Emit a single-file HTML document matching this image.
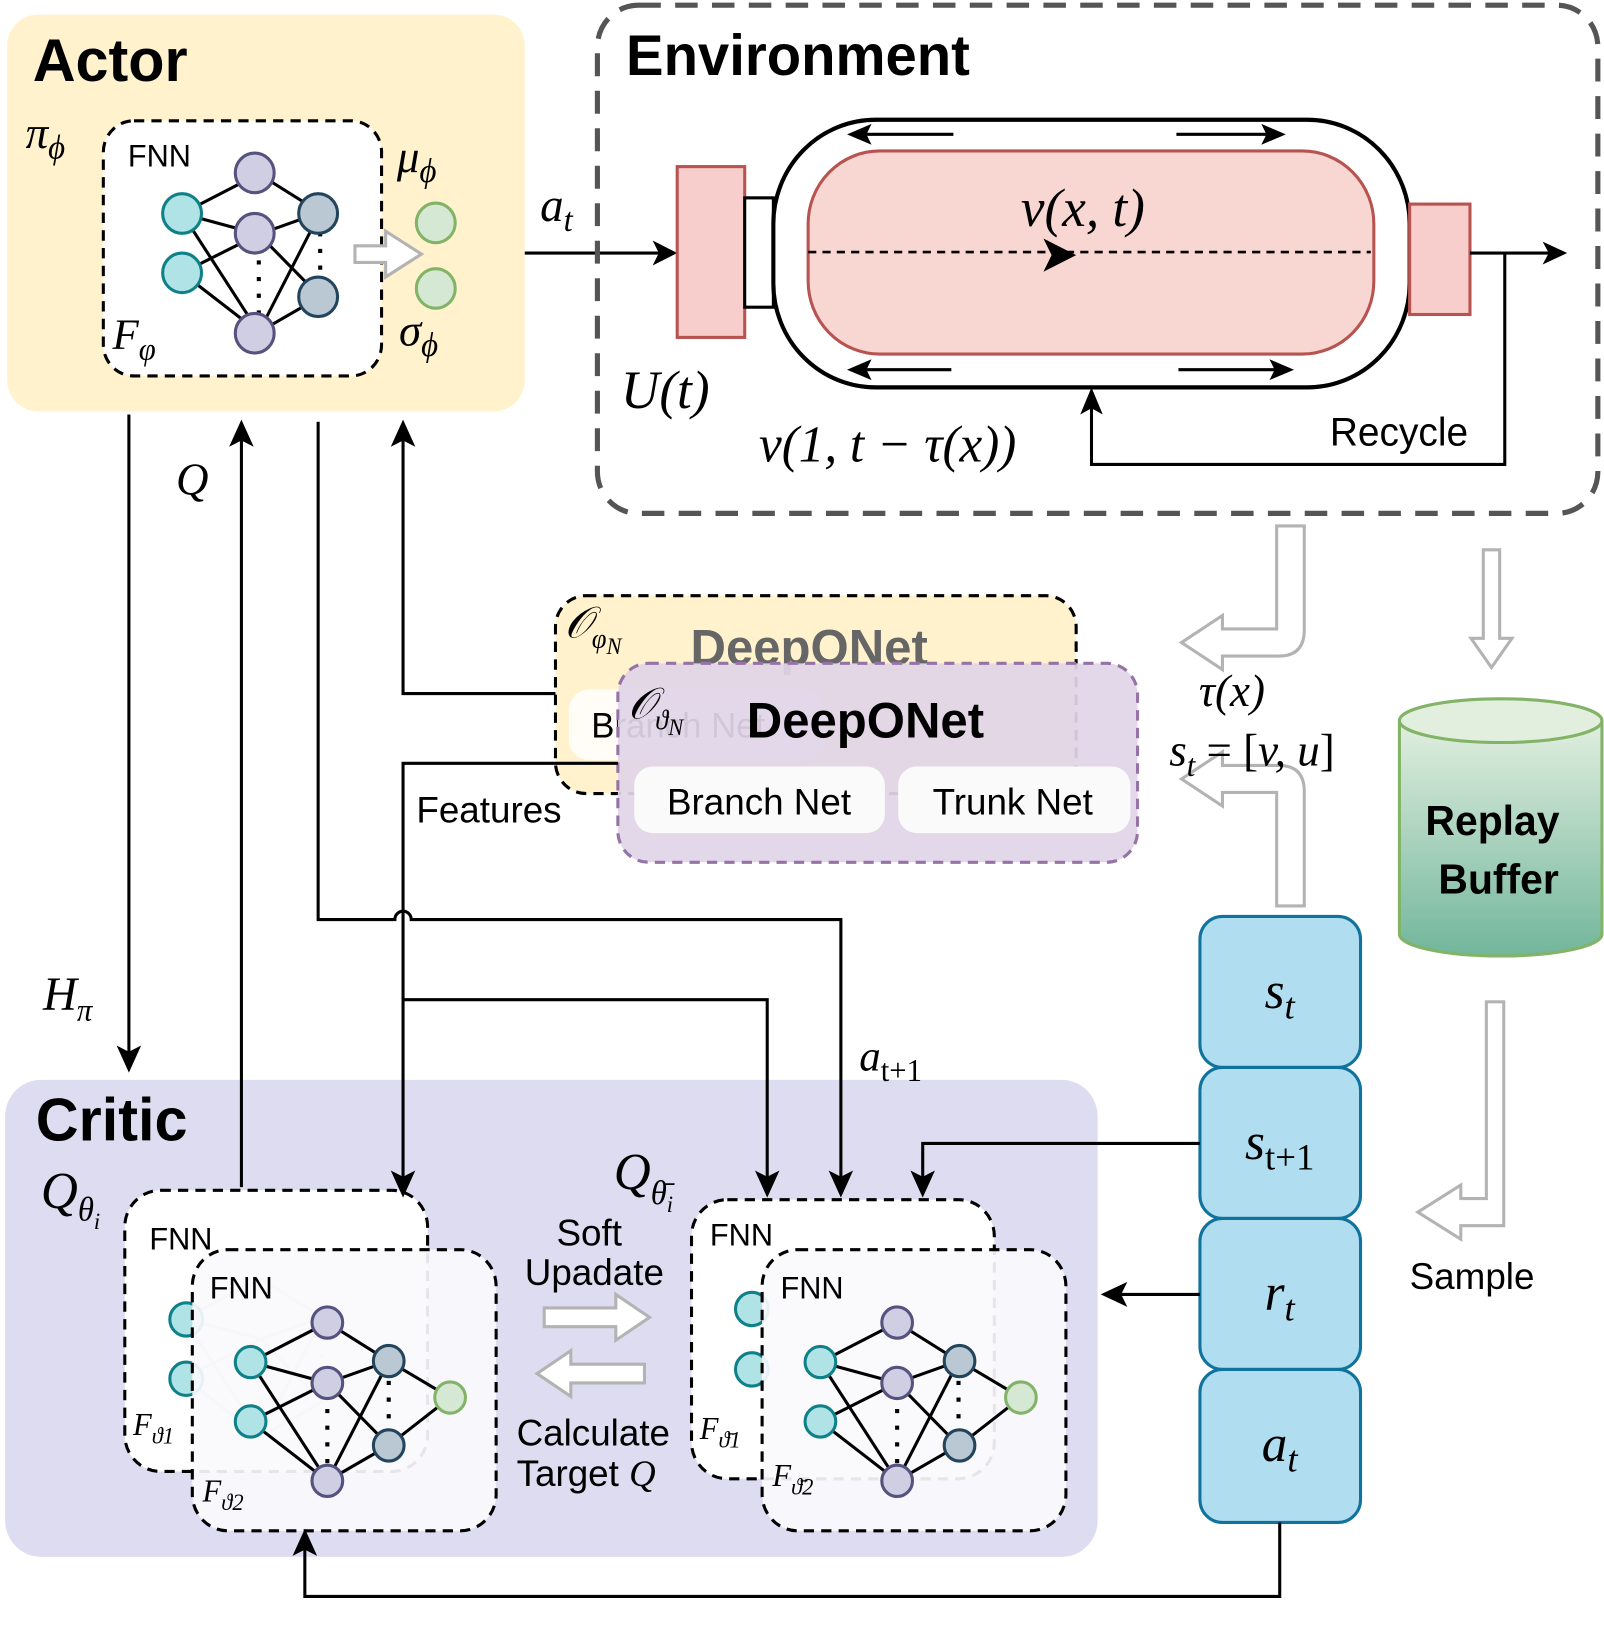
<!DOCTYPE html>
<html><head><meta charset="utf-8"><style>
html,body{margin:0;padding:0;background:#fff}
svg{display:block}
text{font-family:"Liberation Sans",sans-serif}
.m{font-family:"Liberation Serif",serif;font-style:italic}
</style></head><body>
<svg width="1604" height="1636" viewBox="0 0 1568 1571" preserveAspectRatio="none" xmlns="http://www.w3.org/2000/svg">
<defs>
<linearGradient id="rb" x1="0" y1="0" x2="0" y2="1"><stop offset="0" stop-color="#e2efdf"/><stop offset="1" stop-color="#72b69c"/></linearGradient>
<g id="net">
<g stroke="#000" stroke-width="3">
<line x1="0" y1="0" x2="75" y2="-38"/><line x1="0" y1="0" x2="75" y2="20"/><line x1="0" y1="0" x2="75" y2="114"/>
<line x1="0" y1="57" x2="75" y2="20"/><line x1="0" y1="57" x2="75" y2="114"/>
<line x1="75" y1="-38" x2="135" y2="-1"/><line x1="75" y1="20" x2="135" y2="-1"/><line x1="75" y1="20" x2="135" y2="80"/>
<line x1="75" y1="114" x2="135" y2="-1"/><line x1="75" y1="114" x2="135" y2="80"/>
</g>
<g stroke="#000" stroke-width="4" stroke-dasharray="4 12"><line x1="75" y1="45" x2="75" y2="100"/><line x1="135" y1="18" x2="135" y2="70"/></g>
</g>
</defs>
<!-- Actor -->
<rect x="7" y="14" width="506" height="381" rx="30" fill="#fff2cc"/>
<text x="32" y="78" font-size="58" font-weight="bold">Actor</text>
<rect x="101" y="116" width="272" height="245" rx="30" fill="#fff" stroke="#000" stroke-width="3" stroke-dasharray="10 7"/>
<text x="125" y="160" font-size="30">FNN</text>
<text class="m" x="25" y="142" font-size="44">π<tspan font-size="32" dy="10">ϕ</tspan></text>
<text class="m" x="110" y="335" font-size="42">F<tspan font-size="30" dy="10">φ</tspan></text>
<text class="m" x="388" y="165" font-size="44">μ<tspan font-size="32" dy="10">ϕ</tspan></text>
<text class="m" x="390" y="332" font-size="44">σ<tspan font-size="32" dy="10">ϕ</tspan></text>
<use href="#net" x="178" y="205"/>
<g stroke-width="3">
<circle cx="178" cy="205" r="19" fill="#b0e3e6" stroke="#0e8088"/><circle cx="178" cy="262" r="19" fill="#b0e3e6" stroke="#0e8088"/>
<circle cx="249" cy="166" r="19" fill="#d0cee2" stroke="#56517e"/><circle cx="249" cy="224" r="19" fill="#d0cee2" stroke="#56517e"/><circle cx="249" cy="320" r="19" fill="#d0cee2" stroke="#56517e"/>
<circle cx="311" cy="205" r="19" fill="#bac8d3" stroke="#23445d"/><circle cx="311" cy="285" r="19" fill="#bac8d3" stroke="#23445d"/>
<circle cx="426" cy="214" r="19" fill="#d5e8d4" stroke="#82b366"/><circle cx="426" cy="277" r="19" fill="#d5e8d4" stroke="#82b366"/>
</g>
<path d="M347 236 h30 v-14 l35 22 l-35 22 v-14 h-30z" fill="#fff" stroke="#b3b3b3" stroke-width="3"/>
<!-- a_t arrow -->
<line x1="513" y1="243" x2="645" y2="243" stroke="#000" stroke-width="3"/>
<path d="M662 243 l-24 -12 l6 12 l-6 12z" fill="#000"/>
<text class="m" x="528" y="212" font-size="46">a<tspan font-size="32" dy="10">t</tspan></text>
<!-- Environment -->
<rect x="584" y="5" width="978" height="488" rx="40" fill="none" stroke="#555" stroke-width="5" stroke-dasharray="22 14"/>
<text x="612" y="72" font-size="55" font-weight="bold">Environment</text>
<rect x="662" y="160" width="66" height="164" fill="#f8cecc" stroke="#b85450" stroke-width="3"/>
<rect x="728" y="190" width="28" height="105" fill="#fff" stroke="#000" stroke-width="3"/>
<rect x="756" y="115" width="622" height="257" rx="100" fill="#fff" stroke="#000" stroke-width="4"/>
<rect x="790" y="145" width="553" height="195" rx="70" fill="#f8d7d3" stroke="#b85450" stroke-width="3"/>
<rect x="1378" y="196" width="59" height="106" fill="#f8cecc" stroke="#b85450" stroke-width="3"/>
<line x1="790" y1="242" x2="1340" y2="242" stroke="#000" stroke-width="2.5" stroke-dasharray="8 6"/>
<path d="M1052 245 l-32 -16 l8 16 l-8 16z" fill="#000"/>
<g stroke="#000" stroke-width="3">
<line x1="932" y1="129" x2="845" y2="129"/><line x1="1150" y1="129" x2="1240" y2="129"/>
<line x1="930" y1="355" x2="845" y2="355"/><line x1="1152" y1="355" x2="1248" y2="355"/>
</g>
<g fill="#000">
<path d="M828 129 l24 -10 l-5 10 l5 10z"/><path d="M1257 129 l-24 -10 l5 10 l-5 10z"/>
<path d="M828 355 l24 -10 l-5 10 l5 10z"/><path d="M1265 355 l-24 -10 l5 10 l-5 10z"/>
</g>
<text class="m" x="998" y="217" font-size="52">v(x, t)</text>
<text class="m" x="607" y="392" font-size="52">U(t)</text>
<text class="m" x="742" y="443" font-size="50">v(1, t − τ(x))</text>
<text x="1300" y="428" font-size="38">Recycle</text>
<polyline points="1437,243 1515,243" fill="none" stroke="#000" stroke-width="3"/>
<path d="M1532 243 l-24 -11 l6 11 l-6 11z" fill="#000"/>
<polyline points="1471,243 1471,446 1067,446 1067,390" fill="none" stroke="#000" stroke-width="3"/>
<path d="M1067 372 l-11 26 l11 -6 l11 6z" fill="#000"/>
<!-- hollow arrows right side -->
<path d="M1248 505 h27 v100 q0 25 -25 25 h-55 v13 l-40 -26 l40 -26 v13 h53 v-99z" fill="#fff" stroke="#b3b3b3" stroke-width="3"/>
<path d="M1450 528 h16 v85 h12 l-20 28 l-20 -28 h12z" fill="#fff" stroke="#b3b3b3" stroke-width="3"/>
<path d="M1248 870 h27 v-110 q0 -25 -25 -25 h-55 v-13 l-40 26 l40 26 v-13 h53 v109z" fill="#fff" stroke="#b3b3b3" stroke-width="3"/>
<path d="M1453 962 h17 v215 h-42 v13 l-42 -26 l42 -26 v13 h25z" fill="#fff" stroke="#b3b3b3" stroke-width="3"/>
<text class="m" x="1172" y="678" font-size="44">τ(x)</text>
<text class="m" x="1143" y="735" font-size="44">s<tspan font-size="30" dy="10">t</tspan><tspan dy="-10" font-style="normal"> = [</tspan>v, u<tspan font-style="normal">]</tspan></text>
<!-- Replay buffer -->
<path d="M1368 692 v205 a99 21 0 0 0 198 0 v-205z" fill="url(#rb)" stroke="#82b366" stroke-width="3"/>
<ellipse cx="1467" cy="692" rx="99" ry="21" fill="#e2efdf" stroke="#82b366" stroke-width="3"/>
<text x="1459" y="802" font-size="40" font-weight="bold" text-anchor="middle">Replay</text>
<text x="1465" y="858" font-size="40" font-weight="bold" text-anchor="middle">Buffer</text>
<text x="1378" y="1238" font-size="36">Sample</text>
<!-- state boxes -->
<g fill="#b1ddf0" stroke="#10739e" stroke-width="3">
<rect x="1173" y="880" width="157" height="145" rx="22"/><rect x="1173" y="1025" width="157" height="145" rx="22"/>
<rect x="1173" y="1170" width="157" height="145" rx="22"/><rect x="1173" y="1315" width="157" height="147" rx="22"/>
</g>
<g font-size="50" text-anchor="middle">
<text class="m" x="1251" y="968">s<tspan font-size="36" dy="10">t</tspan></text>
<text class="m" x="1251" y="1113">s<tspan font-size="36" dy="10" font-style="normal">t+1</tspan></text>
<text class="m" x="1251" y="1258">r<tspan font-size="36" dy="10">t</tspan></text>
<text class="m" x="1251" y="1403">a<tspan font-size="36" dy="10">t</tspan></text>
</g>
<!-- Critic -->
<rect x="5" y="1037" width="1068" height="458" rx="35" fill="#dedcf0"/>
<text x="35" y="1095" font-size="58" font-weight="bold">Critic</text>
<text class="m" x="40" y="1160" font-size="50">Q<tspan font-size="32" dy="12">θ</tspan><tspan font-size="22" dy="8">i</tspan></text>
<text class="m" x="600" y="1142" font-size="50">Q<tspan font-size="32" dy="14">θ̄</tspan><tspan font-size="22" dy="8">i</tspan></text>
<!-- left critic -->
<rect x="122" y="1143" width="296" height="270" rx="35" fill="#fff" stroke="#000" stroke-width="3" stroke-dasharray="10 7"/>
<text x="146" y="1200" font-size="30">FNN</text>
<g opacity="0.18" transform="translate(-65,-42)"><use href="#net" x="245" y="1308"/></g>
<text class="m" x="130" y="1378" font-size="30">F<tspan font-size="22" dy="8">ϑ1</tspan></text>
<circle cx="182" cy="1267" r="16" fill="#b0e3e6" stroke="#0e8088" stroke-width="3"/>
<circle cx="182" cy="1324" r="16" fill="#b0e3e6" stroke="#0e8088" stroke-width="3"/>
<rect x="188" y="1200" width="297" height="270" rx="35" fill="#fafafd" fill-opacity="0.92" stroke="#000" stroke-width="3" stroke-dasharray="10 7"/>
<text x="205" y="1247" font-size="30">FNN</text>
<text class="m" x="198" y="1442" font-size="30">F<tspan font-size="22" dy="8">ϑ2</tspan></text>
<use href="#net" x="245" y="1308"/>
<line x1="380" y1="1307" x2="440" y2="1342" stroke="#000" stroke-width="3"/><line x1="380" y1="1388" x2="440" y2="1342" stroke="#000" stroke-width="3"/>
<g stroke-width="3">
<circle cx="245" cy="1308" r="15" fill="#b0e3e6" stroke="#0e8088"/><circle cx="245" cy="1365" r="15" fill="#b0e3e6" stroke="#0e8088"/>
<circle cx="320" cy="1270" r="15" fill="#d0cee2" stroke="#56517e"/><circle cx="320" cy="1328" r="15" fill="#d0cee2" stroke="#56517e"/><circle cx="320" cy="1422" r="15" fill="#d0cee2" stroke="#56517e"/>
<circle cx="380" cy="1307" r="15" fill="#bac8d3" stroke="#23445d"/><circle cx="380" cy="1388" r="15" fill="#bac8d3" stroke="#23445d"/>
<circle cx="440" cy="1342" r="15" fill="#d5e8d4" stroke="#82b366"/>
</g>
<!-- right critic -->
<rect x="676" y="1152" width="296" height="268" rx="35" fill="#fff" stroke="#000" stroke-width="3" stroke-dasharray="10 7"/>
<text x="694" y="1196" font-size="30">FNN</text>
<text class="m" x="684" y="1382" font-size="30">F<tspan font-size="22" dy="8">ϑ̄1</tspan></text>
<circle cx="735" cy="1257" r="16" fill="#b0e3e6" stroke="#0e8088" stroke-width="3"/>
<circle cx="735" cy="1315" r="16" fill="#b0e3e6" stroke="#0e8088" stroke-width="3"/>
<rect x="745" y="1200" width="297" height="270" rx="35" fill="#fafafd" fill-opacity="0.92" stroke="#000" stroke-width="3" stroke-dasharray="10 7"/>
<text x="763" y="1247" font-size="30">FNN</text>
<text class="m" x="755" y="1427" font-size="30">F<tspan font-size="22" dy="8">ϑ̄2</tspan></text>
<use href="#net" x="802" y="1308"/>
<line x1="938" y1="1307" x2="998" y2="1342" stroke="#000" stroke-width="3"/><line x1="938" y1="1388" x2="998" y2="1342" stroke="#000" stroke-width="3"/>
<g stroke-width="3">
<circle cx="802" cy="1308" r="15" fill="#b0e3e6" stroke="#0e8088"/><circle cx="802" cy="1365" r="15" fill="#b0e3e6" stroke="#0e8088"/>
<circle cx="877" cy="1270" r="15" fill="#d0cee2" stroke="#56517e"/><circle cx="877" cy="1328" r="15" fill="#d0cee2" stroke="#56517e"/><circle cx="877" cy="1422" r="15" fill="#d0cee2" stroke="#56517e"/>
<circle cx="938" cy="1307" r="15" fill="#bac8d3" stroke="#23445d"/><circle cx="938" cy="1388" r="15" fill="#bac8d3" stroke="#23445d"/>
<circle cx="998" cy="1342" r="15" fill="#d5e8d4" stroke="#82b366"/>
</g>
<!-- soft update -->
<text x="576" y="1196" font-size="36" text-anchor="middle">Soft</text>
<text x="581" y="1234" font-size="36" text-anchor="middle">Upadate</text>
<path d="M532 1256 h70 v-13 l33 22 l-33 22 v-13 h-70z" fill="#fff" stroke="#b3b3b3" stroke-width="3"/>
<path d="M630 1310 h-72 v-13 l-33 22 l33 22 v-13 h72z" fill="#fff" stroke="#b3b3b3" stroke-width="3"/>
<text x="505" y="1388" font-size="36">Calculate</text>
<text x="505" y="1427" font-size="36">Target <tspan class="m">Q</tspan></text>
<!-- DeepONets -->
<rect x="543" y="572" width="509" height="190" rx="30" fill="#fff2cc" stroke="#000" stroke-width="3" stroke-dasharray="10 7"/>
<text class="m" x="552" y="612" font-size="42">𝒪<tspan font-size="26" dy="10">φ</tspan><tspan font-size="22" dy="6">N</tspan></text>
<text x="675" y="638" font-size="48" font-weight="bold" fill="#666">DeepONet</text>
<rect x="556" y="662" width="250" height="68" rx="20" fill="#fffdf6"/>
<text x="578" y="708" font-size="34">Branch Net</text>
<rect x="604" y="637" width="508" height="191" rx="30" fill="#e1d5e7" fill-opacity="0.93" stroke="#9673a6" stroke-width="3" stroke-dasharray="10 7"/>
<text class="m" x="614" y="690" font-size="42">𝒪<tspan font-size="26" dy="10">ϑ</tspan><tspan font-size="22" dy="6">N</tspan></text>
<text x="730" y="708" font-size="48" font-weight="bold">DeepONet</text>
<rect x="620" y="736" width="245" height="64" rx="18" fill="#fafafa"/>
<rect x="878" y="736" width="227" height="64" rx="18" fill="#fafafa"/>
<text x="742" y="782" font-size="36" text-anchor="middle">Branch Net</text>
<text x="990" y="782" font-size="36" text-anchor="middle">Trunk Net</text>
<!-- connectors -->
<g fill="none" stroke="#000" stroke-width="3">
<path d="M126 398 V1012"/>
<path d="M236 1140 V420"/>
<path d="M311 405 V883 H386 A8 8 0 0 1 402 883 H822 V1132"/>
<path d="M543 666 H394 V420"/>
<path d="M604 733 H394 V1132"/>
<path d="M394 960 H750 V1132"/>
<path d="M1173 1098 H902 V1132"/>
<path d="M1173 1243 H1095"/>
<path d="M1251 1462 V1533 H298 V1485"/>
</g>
<g fill="#000">
<path d="M126 1030 l-12 -26 l12 6 l12 -6z"/>
<path d="M236 403 l-12 26 l12 -6 l12 6z"/>
<path d="M394 403 l-12 26 l12 -6 l12 6z"/>
<path d="M394 1150 l-12 -26 l12 6 l12 -6z"/>
<path d="M750 1150 l-12 -26 l12 6 l12 -6z"/>
<path d="M822 1150 l-12 -26 l12 6 l12 -6z"/>
<path d="M902 1150 l-12 -26 l12 6 l12 -6z"/>
<path d="M1076 1243 l26 -12 l-6 12 l6 12z"/>
<path d="M298 1468 l-12 26 l12 -6 l12 6z"/>
</g>
<text class="m" x="172" y="475" font-size="44">Q</text>
<text class="m" x="42" y="970" font-size="46">H<tspan font-size="30" dy="10">π</tspan></text>
<text class="m" x="840" y="1028" font-size="42">a<tspan font-size="30" dy="10" font-style="normal">t+1</tspan></text>
<text x="407" y="790" font-size="36">Features</text>
</svg>
</body></html>
